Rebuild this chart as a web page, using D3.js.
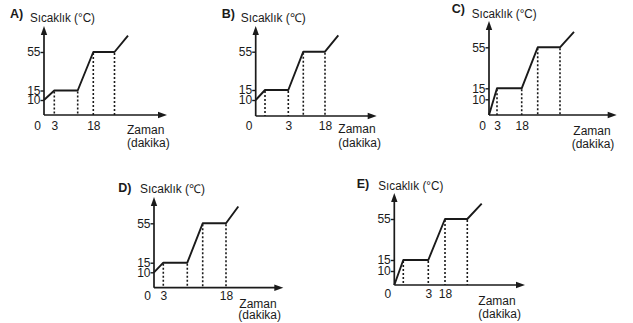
<!DOCTYPE html>
<html>
<head>
<meta charset="utf-8">
<script src="https://cdn.jsdelivr.net/npm/d3@7"></script>
<style>
  html, body { margin: 0; padding: 0; background: #fff; }
  svg { display: block; }
  text { font-family: "Liberation Sans", Arial, sans-serif; fill: #1a1a1a; }
</style>
</head>
<body>
<svg id="chart" width="633" height="323"></svg>
<script>
// ---------- DATA ----------
const panels = ["A", "B", "C", "D", "E"];
const panelLabels = ["A)", "B)", "C)", "D)", "E)"];
const yTitles = ["Sıcaklık (°C)", "Sıcaklık (℃)", "Sıcaklık (°C)", "Sıcaklık (℃)", "Sıcaklık (°C)"];
const tempTickValues = [10, 15, 55];
const tempTickLabels = ["10", "15", "55"];
const originLabel = "0";
const timeTickLabels = ["3", "18"];
const xTitleLines = ["Zaman", "(dakika)"];

// temperature at each vertex of the heating curve
const tempsA = [10, 15, 15, 55, 55, 72];
const tempsB = [10, 15, 15, 55, 55, 72];
const tempsC = [0, 15, 15, 55, 55, 70];
const tempsD = [10, 15, 15, 55, 55, 72];
const tempsE = [0, 15, 15, 55, 55, 70];

// schematic time position of each vertex
const stagesA = [0, 1.03, 3.37, 4.93, 7.05, 8.4];
const stagesB = [0, 0.93, 3.26, 4.76, 6.93, 8.26];
const stagesC = [0, 0.8, 3.27, 4.87, 7.1, 8.5];
const stagesD = [0, 0.93, 3.33, 4.87, 7.2, 8.43];
const stagesE = [0, 0.9, 3.4, 5.07, 7.3, 8.74];

// which vertex carries the "3" and "18" time labels
const timeTickVertexA = [1, 3];
const timeTickVertexB = [2, 4];
const timeTickVertexC = [1, 2];
const timeTickVertexD = [1, 4];
const timeTickVertexE = [2, 3];

const temps = { A: tempsA, B: tempsB, C: tempsC, D: tempsD, E: tempsE };
const stages = { A: stagesA, B: stagesB, C: stagesC, D: stagesD, E: stagesE };
const timeTickVertex = { A: timeTickVertexA, B: timeTickVertexB, C: timeTickVertexC, D: timeTickVertexD, E: timeTickVertexE };

// ---------- LAYOUT ----------
const layout = {
  A: { x0: 44,    y0: 115,   yr: [115, 100, 90.5, 52],      yTop: 26,  xEnd: 167,   lab: [10, 18],      title: [30, 22],      tickBase: 129.5, zaman: [127, 133.5],   dakika: [127, 146.5] },
  B: { x0: 255.7, y0: 116,   yr: [116, 100, 90, 51.7],      yTop: 26,  xEnd: 376.7, lab: [221.7, 18.3], title: [240.7, 22],   tickBase: 129.5, zaman: [338.3, 132.7], dakika: [338.3, 146.5] },
  C: { x0: 489,   y0: 115,   yr: [115, 99.3, 88.3, 47.3],   yTop: 21,  xEnd: 616.7, lab: [451.7, 13],   title: [471.7, 18.3], tickBase: 130,   zaman: [573.3, 135],   dakika: [571.7, 148] },
  D: { x0: 154,   y0: 287.7, yr: [287.7, 272.3, 262.7, 223.3], yTop: 197, xEnd: 283.3, lab: [118.3, 191.7], title: [140, 193.3], tickBase: 300, zaman: [239.3, 307.7], dakika: [238.3, 319] },
  E: { x0: 394.3, y0: 285,   yr: [285, 271, 260, 219],      yTop: 193, xEnd: 525,   lab: [356.7, 188.3], title: [378.3, 190], tickBase: 297.7, zaman: [478.3, 305],   dakika: [478.3, 318.3] }
};
const INK = "#1a1a1a";
const FONT = 12;

const svg = d3.select("#chart");

panels.forEach((p, i) => {
  const L = layout[p];
  const g = svg.append("g");

  const x = d3.scaleLinear().domain([0, 10]).range([L.x0, L.x0 + 100]);
  const y = d3.scaleLinear().domain([0, 10, 15, 55]).range(L.yr);

  const pts = stages[p].map((s, k) => [s, temps[p][k]]);

  // dotted verticals from inner vertices to time axis
  g.selectAll("line.drop").data(pts.slice(1, 5)).enter().append("line")
    .attr("x1", d => x(d[0])).attr("x2", d => x(d[0]))
    .attr("y1", d => y(d[1]) + 1).attr("y2", L.y0)
    .attr("stroke", INK).attr("stroke-width", 1.6)
    .attr("stroke-dasharray", "2,2");

  // axes lines
  g.append("line").attr("x1", L.x0).attr("x2", L.x0).attr("y1", L.y0).attr("y2", L.yTop + 4)
    .attr("stroke", INK).attr("stroke-width", 1.7);
  g.append("line").attr("x1", L.x0).attr("x2", L.xEnd - 4).attr("y1", L.y0).attr("y2", L.y0)
    .attr("stroke", INK).attr("stroke-width", 1.7);
  // arrowheads
  g.append("path").attr("d", `M${L.x0},${L.yTop} L${L.x0 - 3.2},${L.yTop + 9} L${L.x0 + 3.2},${L.yTop + 9} Z`).attr("fill", INK);
  g.append("path").attr("d", `M${L.xEnd},${L.y0} L${L.xEnd - 9},${L.y0 - 3.2} L${L.xEnd - 9},${L.y0 + 3.2} Z`).attr("fill", INK);

  // y axis ticks via d3 axis
  const yAxis = d3.axisLeft(y).tickValues(tempTickValues)
    .tickFormat((d, k) => tempTickLabels[k]).tickSize(3.5).tickPadding(0);
  const ya = g.append("g").attr("transform", `translate(${L.x0},0)`).call(yAxis);
  ya.select(".domain").remove();
  ya.selectAll(".tick line").attr("stroke", INK).attr("stroke-width", 1.4);
  ya.selectAll(".tick text").attr("font-size", FONT).attr("font-family", '"Liberation Sans", Arial, sans-serif').attr("fill", INK);

  // x axis labels via d3 axis
  const tv = timeTickVertex[p].map(k => stages[p][k]);
  const xAxis = d3.axisBottom(x).tickValues(tv)
    .tickFormat((d, k) => timeTickLabels[k]).tickSize(0).tickPadding(L.tickBase - L.y0 - 0.71 * FONT);
  const xa = g.append("g").attr("transform", `translate(0,${L.y0})`).call(xAxis);
  xa.select(".domain").remove();
  xa.selectAll(".tick text").attr("font-size", FONT).attr("font-family", '"Liberation Sans", Arial, sans-serif').attr("fill", INK);

  // origin label
  g.append("text").attr("x", L.x0 - 6.5).attr("y", L.tickBase).attr("text-anchor", "middle")
    .attr("font-size", FONT).text(originLabel);

  // heating curve
  g.append("path").datum(pts)
    .attr("d", d3.line().x(d => x(d[0])).y(d => y(d[1])))
    .attr("fill", "none").attr("stroke", INK).attr("stroke-width", 1.9)
    .attr("stroke-linejoin", "round");

  // titles
  g.append("text").attr("x", L.lab[0]).attr("y", L.lab[1]).attr("font-size", 12.5)
    .attr("font-weight", "bold").text(panelLabels[i]);
  g.append("text").attr("x", L.title[0]).attr("y", L.title[1]).attr("font-size", FONT)
    .attr("textLength", 65).attr("lengthAdjust", "spacingAndGlyphs").text(yTitles[i]);
  g.append("text").attr("x", L.zaman[0]).attr("y", L.zaman[1]).attr("font-size", FONT).text(xTitleLines[0]);
  g.append("text").attr("x", L.dakika[0]).attr("y", L.dakika[1]).attr("font-size", FONT).text(xTitleLines[1]);
});
</script>
</body>
</html>
